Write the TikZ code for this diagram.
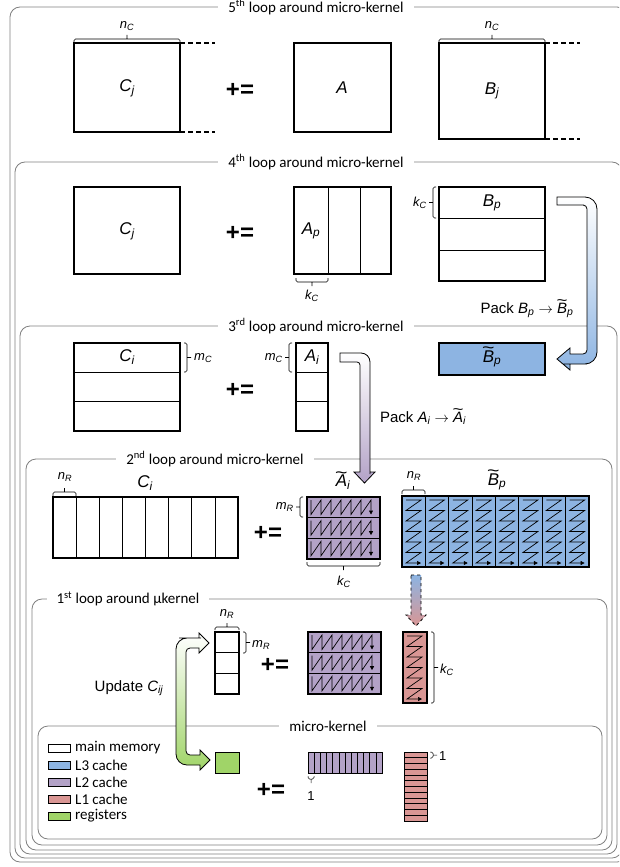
\documentclass[tikz,border=0pt]{standalone}
\usepackage{fontspec}
\setmainfont{Liberation Sans}
\newfontfamily\calib{Carlito}
\usepackage{graphicx}
\usetikzlibrary{arrows.meta}
\definecolor{framegray}{HTML}{808080}
\definecolor{lthree}{HTML}{8DB4E2}
\definecolor{ltwo}{HTML}{B3A2C7}
\definecolor{lone}{HTML}{D99694}
\definecolor{regs}{HTML}{A0D468}
% tilde over a letter
\newcommand\wt[1]{\ooalign{#1\cr\hidewidth\raisebox{.5em}{\upshape\scalebox{1.25}[1]{\textasciitilde}}\hidewidth\cr}}
% zigzag in a row of the packed A, #1 left, #2 top
\newcommand\azig[2]{\draw[zz] (#1+4,#2+3) \foreach \k in {1,...,6}{ -- ++(0,14.5) -- ++(10,-14.5)} -- ++(0,14.5);}
% zigzag in a column of the packed B, #1 left, #2 top
\newcommand\bzig[2]{\draw[zz] (#1+4,#2+4) \foreach \k in {1,...,6}{ -- ++(15,0) -- ++(-15,10.5)} -- ++(15,0);}
\newcommand\apanel[2]{%
 \draw[mat,fill=ltwo] (#1,#2) rectangle ++(73,62);
 \foreach \r in {0,1,2}{\azig{#1}{#2+\r*20.67}}
 \draw[div] (#1,#2+20.67) -- ++(73,0) (#1,#2+41.33) -- ++(73,0);}
\tikzset{
 loopframe/.style={draw=framegray,line width=.8pt,rounded corners=10pt},
 looptitle/.style={fill=white,inner xsep=10pt,inner ysep=1pt,font=\calib\fontsize{15}{15}\selectfont},
 mat/.style={draw,line width=1.1pt},
 div/.style={line width=.9pt},
 brk/.style={line width=.6pt,rounded corners=1.5pt},
 lbl/.style={font=\fontsize{17}{17}\selectfont\itshape,inner sep=0pt},
 dimlbl/.style={font=\fontsize{13}{13}\selectfont\itshape,inner sep=1pt},
 pluseq/.style={font=\fontsize{24}{24}\selectfont\bfseries},
 zz/.style={line width=.7pt,-{Triangle[length=4pt,width=4pt]}},
 packtxt/.style={font=\fontsize{15}{15}\selectfont},
 legbox/.style={draw,line width=.8pt},
 legtxt/.style={font=\calib\fontsize{15}{15}\selectfont,anchor=west,inner sep=0pt},
 dsh/.style={mat,dash pattern=on 5pt off 3pt},
}
\begin{document}
\begin{tikzpicture}[x=1pt,y=-1pt]
\clip (0,0) rectangle (619,867);
\fill[white] (0,0) rectangle (619,867);

% nested loops
\draw[loopframe] (10,7) rectangle (627,862);
\draw[loopframe] (15,162) rectangle (622,858);
\draw[loopframe] (20,326) rectangle (617,854);
\draw[loopframe] (26,459) rectangle (612,850);
\draw[loopframe] (32,599) rectangle (607,845);
\draw[loopframe] (38,726) rectangle (602,839);
\node[looptitle] (t5) at (316,7) {5\textsuperscript{th} loop around micro-kernel};
\node[looptitle] (t4) at (316,162) {4\textsuperscript{th} loop around micro-kernel};
\node[looptitle] (t3) at (316,326) {3\textsuperscript{rd} loop around micro-kernel};
\node[looptitle] (t2) at (215,459) {2\textsuperscript{nd} loop around micro-kernel};
\node[looptitle] (t1) at (128,599) {1\textsuperscript{st} loop around μkernel};
\node[looptitle] (tmk) at (328,726) {micro-kernel};

% 5th loop
\draw[mat] (74,43) rectangle (180,132);
\draw[dsh] (180,43) -- (215,43) (180,132) -- (215,132);
\draw[brk] (74,43) -- (74,39) -- (180,39) -- (180,43) (127,39) -- (127,35);
\node[dimlbl] (nc1) at (127,26) {n\textsubscript{C}};
\node[lbl] (cj5) at (127,88) {C\textsubscript{j}};
\node[pluseq] (pe5) at (240,90) {+=};
\draw[mat] (294,43) rectangle (391,132);
\node[lbl] (a5) at (342,88) {A};
\draw[mat] (439,43) rectangle (545,139);
\draw[dsh] (545,43) -- (580,43) (545,139) -- (580,139);
\draw[brk] (439,43) -- (439,39) -- (545,39) -- (545,43) (492,39) -- (492,35);
\node[dimlbl] (nc2) at (492,26) {n\textsubscript{C}};
\node[lbl] (bj5) at (492,91) {B\textsubscript{j}};

% 4th loop
\draw[mat] (74,187) rectangle (180,274);
\node[lbl] (cj4) at (127,231) {C\textsubscript{j}};
\node[pluseq] (pe4) at (240,233) {+=};
\draw[mat] (294,187) rectangle (391,274);
\draw[div] (328,187) -- (328,274) (360,187) -- (360,274);
\node[lbl] (ap4) at (311,231) {A\textsubscript{p}};
\draw[brk] (296,278) -- (296,282) -- (328,282) -- (328,278) (312,282) -- (312,286);
\node[dimlbl] (kc4a) at (312,296) {k\textsubscript{C}};
\draw[mat] (439,187) rectangle (545,281);
\draw[div] (439,218) -- (545,218) (439,250) -- (545,250);
\node[lbl] (bp4) at (492,203) {B\textsubscript{p}};
\draw[brk] (436,187) -- (433,187) -- (433,218) -- (436,218) (433,202.5) -- (429,202.5);
\node[dimlbl,anchor=east] (kc4b) at (428,203) {k\textsubscript{C}};
% pack B
\shade[draw=black,line width=.8pt,top color=white,bottom color=lthree]
 (557,197) [rounded corners=12pt] -- (597,197) -- (597,364) -- (575,364) [sharp corners]
 -- (570,364) -- (570,370) -- (557,359) -- (570,348) -- (570,354) -- (575,354)
 [rounded corners=4pt] -- (587,354) -- (587,205) -- (580,205) [sharp corners] -- (557,205) -- cycle;
\node[packtxt] (packb) at (527,310) {Pack {\itshape B\textsubscript{p}} $\rightarrow$ {\itshape\wt{B}\textsubscript{p}}};

% 3rd loop
\draw[mat] (74,343) rectangle (180,431);
\draw[div] (74,372.3) -- (180,372.3) (74,401.7) -- (180,401.7);
\node[lbl] (ci3) at (127,357) {C\textsubscript{i}};
\draw[brk] (184,343) -- (187,343) -- (187,372) -- (184,372) (187,357.5) -- (191,357.5);
\node[dimlbl,anchor=west] (mc3a) at (193,358) {m\textsubscript{C}};
\node[pluseq] (pe3) at (240,390) {+=};
\draw[mat] (296,343) rectangle (328,431);
\draw[div] (296,372.3) -- (328,372.3) (296,401.7) -- (328,401.7);
\node[lbl] (ai3) at (312,357) {A\textsubscript{i}};
\draw[brk] (292,343) -- (289,343) -- (289,372) -- (292,372) (289,357.5) -- (285,357.5);
\node[dimlbl,anchor=east] (mc3b) at (284,358) {m\textsubscript{C}};
\draw[mat,fill=lthree] (439,343) rectangle (545,375);
\node[lbl] (bt3) at (492,359) {\wt{B}\textsubscript{p}};
% pack A
\shade[draw=black,line width=.8pt,top color=white,bottom color=ltwo]
 (340,353) [rounded corners=9pt] -- (370,353) -- (370,465) [sharp corners] -- (370,472)
 -- (375,472) -- (364.5,483) -- (354,472) -- (360,472) -- (360,465)
 [rounded corners=3pt] -- (360,362) -- (350,362) [sharp corners] -- (340,362) -- cycle;
\node[packtxt] (packa) at (423,418) {Pack {\itshape A\textsubscript{i}} $\rightarrow$ {\itshape\wt{A}\textsubscript{i}}};

% 2nd loop
\draw[mat] (53,497) rectangle (238,558);
\foreach \c in {1,...,7} \draw[div,line width=.7pt] (53+\c*23.125,497) -- ++(0,61);
\draw[brk] (53,496) -- (53,492) -- (76,492) -- (76,496) (64.5,492) -- (64.5,488);
\node[dimlbl] (nr2a) at (65,477) {n\textsubscript{R}};
\node[lbl] (ci2) at (145,483) {C\textsubscript{i}};
\node[pluseq] (pe2) at (268,533) {+=};
\apanel{307}{497}
\node[lbl] (at2) at (343,482) {\wt{A}\textsubscript{i}};
\draw[brk] (303,497) -- (300,497) -- (300,517) -- (303,517) (300,507) -- (296,507);
\node[dimlbl,anchor=east] (mr2) at (295,507) {m\textsubscript{R}};
\draw[brk] (307,562) -- (307,566) -- (380,566) -- (380,562) (343.5,566) -- (343.5,570);
\node[dimlbl] (kc2) at (344,582) {k\textsubscript{C}};
\draw[mat,fill=lthree] (402,496) rectangle (589,567);
\foreach \c in {1,...,7} \draw[div] (402+\c*23.375,496) -- ++(0,71);
\foreach \c in {0,...,7} {\bzig{402+\c*23.375}{496}}
\draw[brk] (402,494) -- (402,490) -- (425,490) -- (425,494) (413.5,490) -- (413.5,486);
\node[dimlbl] (nr2b) at (414,476) {n\textsubscript{R}};
\node[lbl] (bt2) at (497,482) {\wt{B}\textsubscript{p}};
% B panel to L1
\shade[draw=black,line width=.8pt,dashed,top color=lthree,bottom color=lone]
 (411,575) -- (421,575) -- (421,615) -- (426,615) -- (416,626) -- (406,615) -- (411,615) -- cycle;

% 1st loop
\draw[mat] (215,632) rectangle (239,694);
\draw[div] (215,652.7) -- (239,652.7) (215,673.3) -- (239,673.3);
\draw[brk] (215,630) -- (215,627) -- (239,627) -- (239,630) (227,627) -- (227,623);
\node[dimlbl] (nr1) at (227,614) {n\textsubscript{R}};
\draw[brk] (243,632) -- (246,632) -- (246,653) -- (243,653) (246,642.5) -- (250,642.5);
\node[dimlbl,anchor=west] (mr1) at (251,645) {m\textsubscript{R}};
\node[pluseq] (pe1) at (275,665) {+=};
\apanel{308}{632}
\draw[mat,fill=lone] (403,632) rectangle (427,703);
\bzig{403}{632}
\draw[brk] (431,632) -- (434,632) -- (434,703) -- (431,703) (434,667.5) -- (438,667.5);
\node[dimlbl,anchor=west] (kc1) at (439,670) {k\textsubscript{C}};
\node[packtxt] (upd) at (129,688) {Update {\itshape C\textsubscript{ij}}};
% update C
\shade[draw=black,line width=.8pt,top color=white,bottom color=regs]
 (199,638) -- (199,633) -- (209,643) -- (199,653) -- (199,648) -- (195,648)
 [rounded corners=4pt] -- (186,648) -- (186,755) -- (195,755) [sharp corners]
 -- (200,755) -- (200,750) -- (210,760) -- (200,770) -- (200,765) -- (195,765)
 [rounded corners=11pt] -- (176,765) -- (176,638) -- (190,638) [sharp corners] -- cycle;

% micro-kernel
\draw[mat,line width=.9pt,fill=regs] (215,752) rectangle (239,773);
\node[pluseq] (pe0) at (271,790) {+=};
\draw[mat,line width=.9pt,fill=ltwo] (308,752) rectangle (382,773);
\foreach \c in {1,...,11} \draw[line width=.6pt] (308+\c*6.167,752) -- ++(0,21);
\draw[brk,line width=.5pt] (308,776) -- (308,779) -- (314,779) -- (314,776) (311,779) -- (311,783);
\node[font=\fontsize{13}{13}\selectfont,inner sep=0pt] (one1) at (311,796) {1};
\draw[mat,line width=.9pt,fill=lone] (404,752) rectangle (427,821);
\foreach \r in {1,...,11} \draw[line width=.6pt] (404,752+\r*5.75) -- ++(23,0);
\draw[brk,line width=.5pt] (430,752) -- (433,752) -- (433,758) -- (430,758) (433,755) -- (437,755);
\node[font=\fontsize{13}{13}\selectfont,inner sep=0pt,anchor=west] (one2) at (439,756) {1};

% legend
\foreach \c/\t [count=\i from 0] in {white/main memory,lthree/L3 cache,ltwo/L2 cache,lone/L1 cache,regs/registers}{
 \draw[legbox,fill=\c] (48,744.5+\i*17) rectangle ++(22,7.5);
 \node[legtxt] (leg\i) at (75,748+\i*17) {\t};
}
\end{tikzpicture}
\end{document}
